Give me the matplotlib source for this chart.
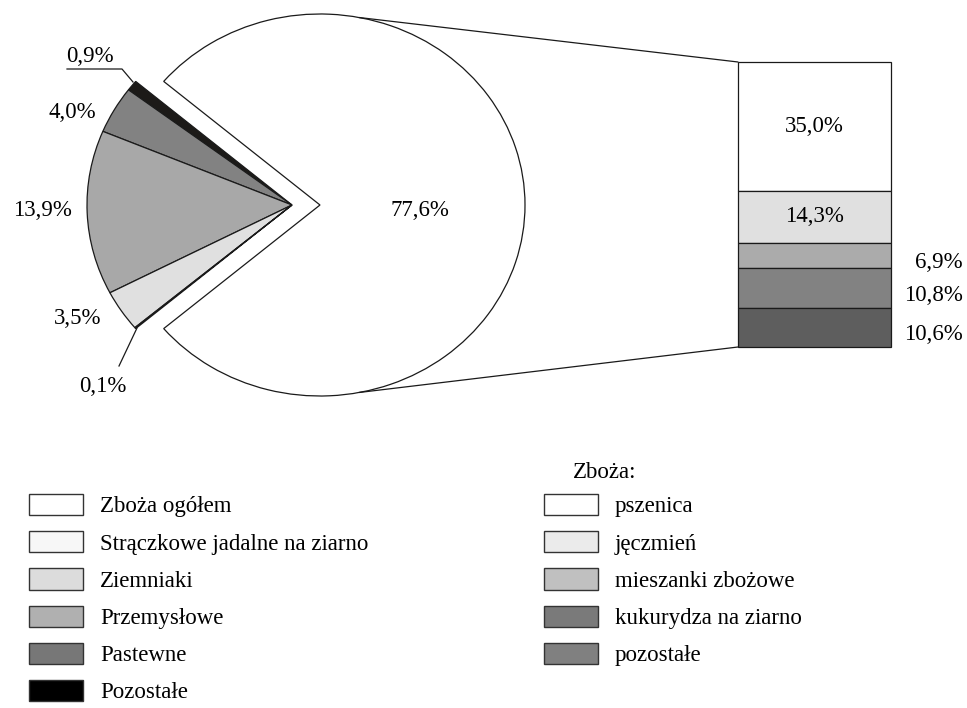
import numpy as np
import matplotlib
matplotlib.use("Agg")
import matplotlib.pyplot as plt
from matplotlib.patches import Patch, ConnectionPatch

# -------------------------
# Data
# -------------------------
pie_labels = ["Zboża ogółem", "Pozostałe", "Pastewne", "Przemysłowe", "Ziemniaki",
              "Strączkowe jadalne na ziarno"]
pie_values = [77.6, 0.9, 4.0, 13.9, 3.5, 0.1]
pie_texts = ["77,6%", "0,9%", "4,0%", "13,9%", "3,5%", "0,1%"]

legend_left = ["Zboża ogółem", "Strączkowe jadalne na ziarno", "Ziemniaki",
               "Przemysłowe", "Pastewne", "Pozostałe"]

bar_labels = ["pszenica", "jęczmień", "mieszanki zbożowe", "kukurydza na ziarno", "pozostałe"]
bar_values = [35.0, 14.3, 6.9, 10.8, 10.6]
bar_texts = ["35,0%", "14,3%", "6,9%", "10,8%", "10,6%"]

# -------------------------
# Styles
# -------------------------
pie_colors = ["#ffffff", "#1c1a18", "#828282", "#a8a8a8", "#e0e0e0", "#f5f5f5"]
legend_left_colors = ["#ffffff", "#f7f7f7", "#dcdcdc", "#b0b0b0", "#777777", "#000000"]
bar_colors = ["#ffffff", "#e0e0e0", "#ababab", "#828282", "#5e5e5e"]
legend_right_colors = ["#ffffff", "#ebebeb", "#c0c0c0", "#7a7a7a", "#808080"]

plt.rcParams["font.family"] = ["Liberation Serif", "DejaVu Serif"]
FS = 16.5
EDGE = "#1a1a1a"

W, H = 967, 708
fig = plt.figure(figsize=(W / 100, H / 100), dpi=100)

# pie axes: 1 unit = 205 px horizontally, 191 px vertically
sx, sy = 205.0, 191.0
cx, cy = 320, 205          # big wedge apex in px (from top)
ax_w, ax_h = 640, 420
ax = fig.add_axes([0, 1 - ax_h / H, ax_w / W, ax_h / H])
wedges, _ = ax.pie(pie_values, colors=pie_colors, startangle=-pie_values[0] * 3.6 / 2,
                   counterclock=True, radius=1,
                   wedgeprops=dict(edgecolor=EDGE, linewidth=0.9))
shift = 28 / sx
for w in wedges[1:]:
    w.set_center((-shift, 0))
ax.set_aspect("auto")
ax.set_xlim(-cx / sx, (ax_w - cx) / sx)
ax.set_ylim(-(ax_h - cy) / sy, cy / sy)
ax.axis("off")


def px(ix, iy):
    return ((ix - cx) / sx, (cy - iy) / sy)


# label positions (px from top-left)
label_px = [(420, 210), (90, 56), (72, 112), (42, 210), (78, 318), (103, 387)]
for txt, (ix, iy) in zip(pie_texts, label_px):
    ax.text(*px(ix, iy), txt, fontsize=FS, ha="center", va="center")

lx, ly = zip(px(67, 69), px(122, 69), px(133, 82))
ax.plot(lx, ly, color=EDGE, lw=0.9)
lx, ly = zip(px(119, 366), px(137, 328))
ax.plot(lx, ly, color=EDGE, lw=0.9)

# bar axes
bx0, bx1, by0, by1 = 738, 891, 62, 347
axb = fig.add_axes([bx0 / W, 1 - by1 / H, (bx1 - bx0) / W, (by1 - by0) / H])
total = sum(bar_values)
bottoms = total - np.cumsum(bar_values)
bars = axb.bar([0] * len(bar_values), bar_values, bottom=bottoms, width=1, align="edge",
               color=bar_colors, edgecolor=EDGE, linewidth=0.9)
for b in bars:
    b.set_clip_on(False)
axb.set_xlim(0, 1)
axb.set_ylim(0, total)
axb.axis("off")
for i, (txt, v, b) in enumerate(zip(bar_texts, bar_values, bottoms)):
    if i < 2:
        axb.text(0.5, b + v / 2, txt, fontsize=FS, ha="center", va="center")
    else:
        axb.annotate(txt, (1 + 72 / (bx1 - bx0), b + v / 2), xycoords=axb.get_yaxis_transform(),
                     xytext=(0, -5), textcoords="offset points",
                     fontsize=FS, ha="right", va="center")

# connector lines
ang = np.deg2rad(79)
for sgn, yb in [(1, total), (-1, 0)]:
    con = ConnectionPatch(xyA=(np.cos(ang), sgn * np.sin(ang)), coordsA=ax.transData,
                          xyB=(0, yb), coordsB=axb.transData, color=EDGE, lw=0.9)
    fig.add_artist(con)

# legends
leg_kw = dict(loc="upper left", frameon=False, fontsize=FS, handlelength=2.35,
              handleheight=1.05, handletextpad=0.75, labelspacing=0.6,
              borderpad=0, borderaxespad=0)
hl = [Patch(facecolor=c, edgecolor="#333333", linewidth=1.0) for c in legend_left_colors]
fig.legend(hl, legend_left, bbox_to_anchor=(29 / W, 1 - 494 / H), **leg_kw)
hr = [Patch(facecolor=c, edgecolor="#333333", linewidth=1.0) for c in legend_right_colors]
fig.legend(hr, bar_labels, bbox_to_anchor=(544 / W, 1 - 494 / H), **leg_kw)
fig.text(573 / W, 1 - 473 / H, "Zboża:", fontsize=FS, ha="left", va="center")

fig.savefig("out.png", dpi=100)
